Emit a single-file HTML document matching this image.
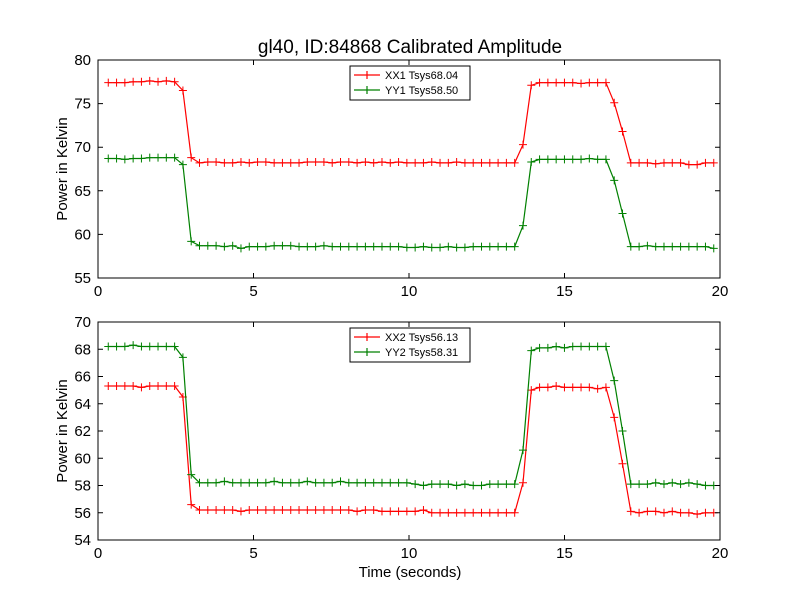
<!DOCTYPE html>
<html><head><meta charset="utf-8"><style>
body{margin:0;background:#fff;width:800px;height:600px;overflow:hidden}
svg{font-family:"Liberation Sans","DejaVu Sans",sans-serif}
</style></head><body>
<svg id="chart" width="800" height="600">
<rect width="800" height="600" fill="#fff"/>
<text x="410" y="53" font-size="19" text-anchor="middle">gl40, ID:84868 Calibrated Amplitude</text>
</svg>
<script>
const nPts = 74;
const xx1 = [77.4,77.4,77.4,77.5,77.5,77.6,77.5,77.6,77.5,76.5,68.8,
68.2,68.3,68.3,68.2,68.2,68.3,68.2,68.3,68.3,68.2,68.2,68.2,68.2,68.3,68.3,68.3,68.2,68.3,68.3,68.2,68.3,68.2,68.3,68.2,68.3,68.2,68.2,68.2,68.3,68.2,68.2,68.3,68.2,68.2,68.2,68.2,68.2,68.2,68.2,
70.3,77.1,77.4,77.4,77.4,77.4,77.4,77.3,77.4,77.4,77.4,75.1,71.8,
68.2,68.2,68.2,68.1,68.2,68.2,68.2,68.0,68.0,68.2,68.2];
const yy1 = [68.7,68.7,68.6,68.7,68.7,68.8,68.8,68.8,68.8,68.0,59.2,
58.7,58.7,58.7,58.6,58.7,58.4,58.6,58.6,58.6,58.7,58.7,58.7,58.6,58.6,58.6,58.7,58.6,58.6,58.6,58.6,58.6,58.6,58.6,58.6,58.6,58.5,58.5,58.6,58.5,58.5,58.6,58.5,58.5,58.6,58.6,58.6,58.6,58.6,58.6,
61.0,68.3,68.6,68.6,68.6,68.6,68.6,68.6,68.7,68.6,68.6,66.2,62.4,
58.6,58.6,58.7,58.6,58.6,58.6,58.6,58.6,58.6,58.6,58.4];
const xx2 = [65.3,65.3,65.3,65.3,65.2,65.3,65.3,65.3,65.3,64.5,56.6,
56.2,56.2,56.2,56.2,56.2,56.1,56.2,56.2,56.2,56.2,56.2,56.2,56.2,56.2,56.2,56.2,56.2,56.2,56.2,56.1,56.2,56.2,56.1,56.1,56.1,56.1,56.1,56.2,56.0,56.0,56.0,56.0,56.0,56.0,56.0,56.0,56.0,56.0,56.0,
58.2,65.0,65.2,65.2,65.3,65.2,65.2,65.2,65.2,65.1,65.2,63.0,59.6,
56.1,56.0,56.1,56.1,56.0,56.1,56.0,56.0,55.9,56.0,56.0];
const yy2 = [68.2,68.2,68.2,68.3,68.2,68.2,68.2,68.2,68.2,67.4,58.8,
58.2,58.2,58.2,58.3,58.2,58.2,58.2,58.2,58.2,58.3,58.2,58.2,58.2,58.3,58.2,58.2,58.2,58.3,58.2,58.2,58.2,58.2,58.2,58.2,58.2,58.2,58.1,58.0,58.1,58.1,58.1,58.0,58.1,58.0,58.0,58.1,58.1,58.1,58.1,
60.6,67.9,68.1,68.1,68.2,68.1,68.2,68.2,68.2,68.2,68.2,65.7,62.0,
58.1,58.1,58.1,58.2,58.1,58.2,58.1,58.2,58.1,58.0,58.0];
const times = Array.from({length:nPts},(_,i)=>0.33+i*0.2667);
const xTicks = [0,5,10,15,20];
const yTicksTop = [55,60,65,70,75,80];
const yTicksBot = [54,56,58,60,62,64,66,68,70];

const NS="http://www.w3.org/2000/svg";
const svg=document.getElementById('chart');
function mk(tag,attrs,parent){const e=document.createElementNS(NS,tag);for(const k in attrs)e.setAttribute(k,attrs[k]);(parent||svg).appendChild(e);return e;}
const L=98,R=720;
const xs=t=>L+(t-0)/(20-0)*(R-L);

function panel(top,bot,ymin,ymax,yTicks,series,legendItems,name,showXLabel){
  const g=mk('g',{});
  
  
  const ys=v=>bot-(v-ymin)/(ymax-ymin)*(bot-top);
  // series
  series.forEach(s=>{
    const sg=mk('g',{},g);
    
    
    const pts=s.vals.map((v,i)=>xs(times[i]).toFixed(1)+','+ys(v).toFixed(1)).join(' ');
    mk('polyline',{points:pts,fill:'none',stroke:s.color,'stroke-width':1.2},sg);
    s.vals.forEach((v,i)=>{
      const x=xs(times[i]),y=ys(v);
      const m=mk('path',{d:`M${x-4},${y}H${x+4}M${x},${y-4}V${y+4}`,stroke:s.color,'stroke-width':1},sg);
      
      
    });
  });
  // frame
  const f=mk('rect',{x:L,y:top,width:R-L,height:bot-top,fill:'none',stroke:'#000','stroke-width':1},g);
  
  
  xTicks.forEach(t=>{
    const x=xs(t);
    mk('path',{d:`M${x},${bot}v-5M${x},${top}v5`,stroke:'#000'},g);
    const tx=mk('text',{x:x,y:bot+18,'font-size':15,'text-anchor':'middle'},g);
    tx.textContent=t;
    
    
  });
  yTicks.forEach(v=>{
    const y=ys(v);
    mk('path',{d:`M${L},${y}h5M${R},${y}h-5`,stroke:'#000'},g);
    const tx=mk('text',{x:L-7,y:y+5,'font-size':15,'text-anchor':'end'},g);
    tx.textContent=v;
    
    
  });
  const yl=mk('text',{x:0,y:0,'font-size':15,'text-anchor':'middle',transform:`translate(67,${(top+bot)/2}) rotate(-90)`},g);
  yl.textContent='Power in Kelvin';
  
  
  // legend
  const lg=mk('g',{},g);
  
  
  mk('rect',{x:350,y:top+6,width:120,height:34,fill:'#fff',stroke:'#000','stroke-width':1},lg);
  legendItems.forEach((it,i)=>{
    const y=top+15+i*15;
    const e=mk('g',{},lg);
    
    
    mk('path',{d:`M354,${y}h26M367,${y-4}v8`,stroke:it.color,'stroke-width':1.2},e);
    const tx=mk('text',{x:385,y:y+4,'font-size':11},e);
    tx.textContent=it.label;
  });
  if(showXLabel){
    const xl=mk('text',{x:410,y:bot+37,'font-size':15,'text-anchor':'middle'},g);
    xl.textContent='Time (seconds)';
    
    
  }
}
panel(60,278,55,80,yTicksTop,[{name:'series-xx1',vals:xx1,color:'#ff0000'},{name:'series-yy1',vals:yy1,color:'#008000'}],
  [{label:'XX1 Tsys68.04',color:'#ff0000'},{label:'YY1 Tsys58.50',color:'#008000'}],'top-panel',false);
panel(322,540,54,70,yTicksBot,[{name:'series-xx2',vals:xx2,color:'#ff0000'},{name:'series-yy2',vals:yy2,color:'#008000'}],
  [{label:'XX2 Tsys56.13',color:'#ff0000'},{label:'YY2 Tsys58.31',color:'#008000'}],'bottom-panel',true);
</script>
</body></html>
